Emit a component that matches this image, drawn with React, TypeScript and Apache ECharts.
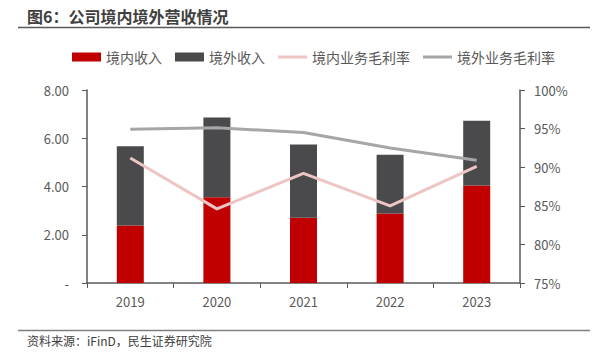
import React, { useEffect, useRef } from "react";
import * as echarts from "echarts";

const categories = ["2019", "2020", "2021", "2022", "2023"];
const domesticRevenue = [2.38, 3.55, 2.7, 2.88, 4.04];
const overseasRevenue = [3.29, 3.31, 3.04, 2.44, 2.69];
const domesticMargin = [91.2, 84.6, 89.2, 85.0, 90.1];
const overseasMargin = [94.9, 95.1, 94.5, 92.5, 90.9];
const seriesNames = ["境内收入", "境外收入", "境内业务毛利率", "境外业务毛利率"];

const FONT = "'Microsoft YaHei', 'Noto Sans CJK SC', sans-serif";
const TXT = "#595959";
const LINE_ICON = "path://M0,0M29,9M0,3L29,3L29,6L0,6Z";

export default function App() {
  const ref = useRef<HTMLDivElement>(null);
  useEffect(() => {
    if (!ref.current) return;
    const chart = echarts.init(ref.current, null, { renderer: "svg" });
    chart.setOption({
      animation: false,
      backgroundColor: "#ffffff",
      textStyle: { fontFamily: FONT },
      graphic: [
        {
          type: "text",
          left: 27,
          top: 8,
          style: { text: "图6：公司境内境外营收情况", font: `bold 16px ${FONT}`, fill: "#404040" },
        },
        {
          type: "line",
          shape: { x1: 18, y1: 27.5, x2: 590, y2: 27.5 },
          style: { stroke: "#595959", lineWidth: 1.5 },
        },
        {
          type: "line",
          shape: { x1: 18, y1: 330.5, x2: 590, y2: 330.5 },
          style: { stroke: "#808080", lineWidth: 1.5 },
        },
        {
          type: "text",
          left: 27,
          top: 334,
          style: { text: "资料来源：iFinD，民生证券研究院", font: `12px ${FONT}`, fill: "#404040" },
        },
      ],
      legend: {
        top: 45,
        left: 67,
        itemGap: 13,
        itemWidth: 29,
        itemHeight: 9,
        textStyle: { color: TXT, fontSize: 14, fontFamily: FONT },
        data: [
          { name: seriesNames[0], icon: "rect" },
          { name: seriesNames[1], icon: "rect" },
          { name: seriesNames[2], icon: LINE_ICON },
          { name: seriesNames[3], icon: LINE_ICON },
        ],
      },
      grid: { left: 87, right: 75, top: 90, bottom: 71 },
      xAxis: {
        type: "category",
        data: categories,
        axisLine: { lineStyle: { color: "#595959", width: 1.5 } },
        axisTick: { show: true, length: 5, alignWithLabel: false, lineStyle: { color: "#595959" } },
        axisLabel: { color: TXT, fontSize: 13, margin: 12, fontFamily: FONT },
      },
      yAxis: [
        {
          type: "value",
          min: 0,
          max: 8,
          interval: 2,
          axisLine: { show: true, lineStyle: { color: "#595959", width: 1.5 } },
          axisTick: { show: true, length: 5, lineStyle: { color: "#595959" } },
          splitLine: { show: false },
          axisLabel: {
            color: TXT,
            fontSize: 13,
            margin: 18,
            fontFamily: FONT,
            formatter: (v: number) => (v === 0 ? "-" : v.toFixed(2)),
          },
        },
        {
          type: "value",
          min: 75,
          max: 100,
          interval: 5,
          position: "right",
          axisLine: { show: true, lineStyle: { color: "#595959", width: 1.5 } },
          axisTick: { show: true, length: 5, lineStyle: { color: "#595959" } },
          splitLine: { show: false },
          axisLabel: {
            color: TXT,
            fontSize: 13,
            margin: 14,
            fontFamily: FONT,
            formatter: (v: number) => `${v}%`,
          },
        },
      ],
      series: [
        {
          name: seriesNames[0],
          type: "bar",
          stack: "rev",
          data: domesticRevenue,
          barWidth: 27,
          itemStyle: { color: "#C00000" },
        },
        {
          name: seriesNames[1],
          type: "bar",
          stack: "rev",
          data: overseasRevenue,
          barWidth: 27,
          itemStyle: { color: "#4A4A4C" },
        },
        {
          name: seriesNames[2],
          type: "line",
          yAxisIndex: 1,
          data: domesticMargin,
          symbol: "none",
          lineStyle: { color: "#EDC5C5", width: 3 },
          itemStyle: { color: "#EDC5C5" },
        },
        {
          name: seriesNames[3],
          type: "line",
          yAxisIndex: 1,
          data: overseasMargin,
          symbol: "none",
          lineStyle: { color: "#A6A6A6", width: 3 },
          itemStyle: { color: "#A6A6A6" },
        },
      ],
    });
    return () => chart.dispose();
  }, []);
  return <div ref={ref} style={{ width: 595, height: 354, position: "fixed", left: 0, top: 0 }} />;
}
